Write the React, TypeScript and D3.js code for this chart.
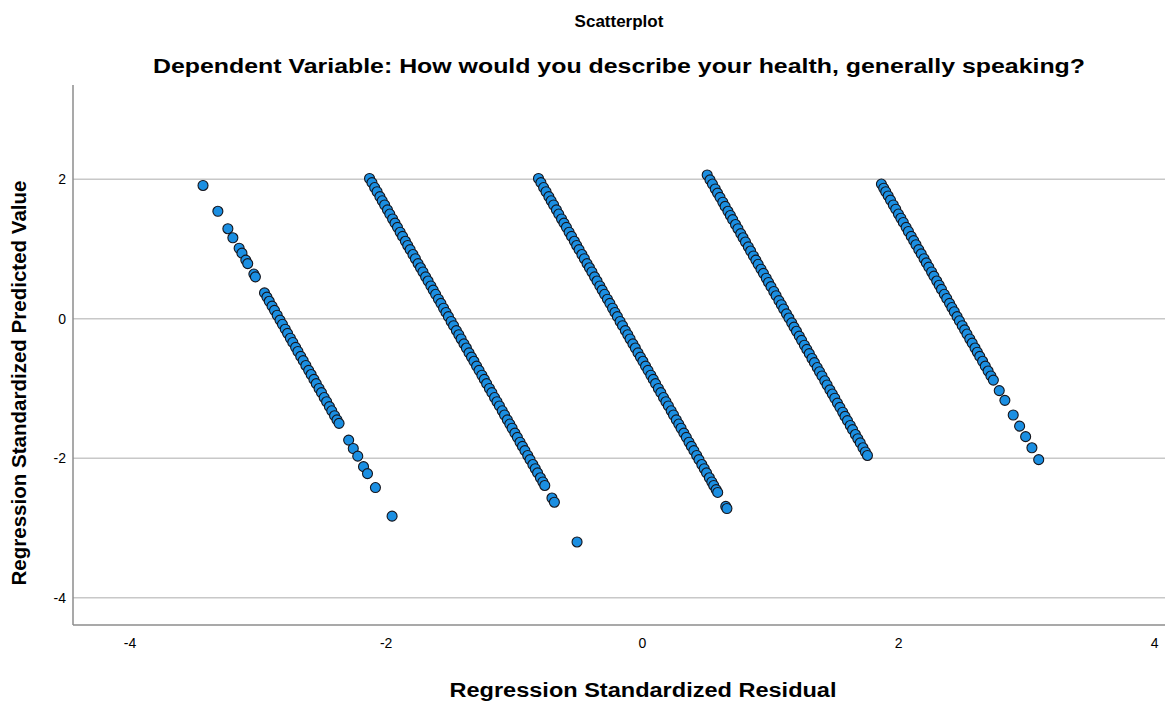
import React, { useRef, useEffect } from "react";
import { select, scaleLinear } from "d3";

const chartTitle = "Scatterplot";
const chartSubtitle =
  "Dependent Variable: How would you describe your health, generally speaking?";
const xAxisTitle = "Regression Standardized Residual";
const yAxisTitle = "Regression Standardized Predicted Value";

const xTicks = [-4, -2, 0, 2, 4];
const yTicks = [-4, -2, 0, 2];
const xDomain = [-4.445, 4.08];
const yDomain = [-4.39, 3.35];

// band 1 (sparse at both ends)
const band1Residual = [
  -3.43, -3.314, -3.236, -3.197, -3.148, -3.126, -3.096, -3.081, -3.033, -3.021,
  -2.95, -2.931, -2.913, -2.891, -2.872, -2.851, -2.829, -2.81, -2.788, -2.77,
  -2.748, -2.729, -2.707, -2.689, -2.667, -2.648, -2.627, -2.605, -2.586, -2.564,
  -2.546, -2.524, -2.505, -2.484, -2.465, -2.443, -2.425, -2.403, -2.384, -2.368,
  -2.293, -2.257, -2.222, -2.177, -2.146, -2.084, -1.954,
];
const band1Predicted = [
  1.91, 1.54, 1.29, 1.16, 1.01, 0.94, 0.84, 0.79, 0.64, 0.6,
  0.37, 0.31, 0.25, 0.18, 0.12, 0.05, -0.02, -0.08, -0.15, -0.21,
  -0.28, -0.34, -0.41, -0.47, -0.54, -0.6, -0.67, -0.74, -0.8, -0.87,
  -0.93, -1.0, -1.06, -1.13, -1.19, -1.26, -1.32, -1.39, -1.45, -1.5,
  -1.74, -1.86, -1.97, -2.12, -2.22, -2.42, -2.83,
];

// band 2
const band2Residual = [
  -2.13, -2.111, -2.09, -2.071, -2.049, -2.031, -2.012, -1.99, -1.972, -1.95,
  -1.931, -1.912, -1.891, -1.872, -1.85, -1.832, -1.813, -1.791, -1.772, -1.751,
  -1.732, -1.713, -1.692, -1.673, -1.651, -1.633, -1.614, -1.592, -1.573, -1.552,
  -1.533, -1.514, -1.493, -1.474, -1.452, -1.433, -1.415, -1.393, -1.374, -1.353,
  -1.334, -1.315, -1.294, -1.275, -1.253, -1.234, -1.216, -1.194, -1.175, -1.154,
  -1.135, -1.116, -1.094, -1.076, -1.054, -1.035, -1.017, -0.995, -0.976, -0.955,
  -0.936, -0.917, -0.895, -0.877, -0.855, -0.836, -0.818, -0.796, -0.777, -0.762,
  -0.706, -0.687, -0.51,
];
const band2Predicted = [
  2.01, 1.95, 1.88, 1.82, 1.75, 1.69, 1.63, 1.56, 1.5, 1.43,
  1.37, 1.31, 1.24, 1.18, 1.11, 1.05, 0.99, 0.92, 0.86, 0.79,
  0.73, 0.67, 0.6, 0.54, 0.47, 0.41, 0.35, 0.28, 0.22, 0.15,
  0.09, 0.03, -0.04, -0.1, -0.17, -0.23, -0.29, -0.36, -0.42, -0.49,
  -0.55, -0.61, -0.68, -0.74, -0.81, -0.87, -0.93, -1.0, -1.06, -1.13,
  -1.19, -1.25, -1.32, -1.38, -1.45, -1.51, -1.57, -1.64, -1.7, -1.77,
  -1.83, -1.89, -1.96, -2.02, -2.09, -2.15, -2.21, -2.28, -2.34, -2.39,
  -2.57, -2.63, -3.2,
];

// band 3
const band3Residual = [
  -0.811, -0.792, -0.771, -0.752, -0.73, -0.712, -0.693, -0.671, -0.653, -0.631,
  -0.612, -0.593, -0.572, -0.553, -0.531, -0.513, -0.494, -0.472, -0.453, -0.432,
  -0.413, -0.394, -0.373, -0.354, -0.332, -0.314, -0.295, -0.273, -0.254, -0.233,
  -0.214, -0.195, -0.174, -0.155, -0.133, -0.114, -0.096, -0.074, -0.055, -0.034,
  -0.015, 0.004, 0.025, 0.044, 0.066, 0.085, 0.103, 0.125, 0.144, 0.165,
  0.184, 0.203, 0.225, 0.243, 0.265, 0.284, 0.302, 0.324, 0.343, 0.364,
  0.383, 0.402, 0.424, 0.442, 0.464, 0.483, 0.501, 0.523, 0.542, 0.557,
  0.576, 0.588, 0.651, 0.66,
];
const band3Predicted = [
  2.01, 1.95, 1.88, 1.82, 1.75, 1.69, 1.63, 1.56, 1.5, 1.43,
  1.37, 1.31, 1.24, 1.18, 1.11, 1.05, 0.99, 0.92, 0.86, 0.79,
  0.73, 0.67, 0.6, 0.54, 0.47, 0.41, 0.35, 0.28, 0.22, 0.15,
  0.09, 0.03, -0.04, -0.1, -0.17, -0.23, -0.29, -0.36, -0.42, -0.49,
  -0.55, -0.61, -0.68, -0.74, -0.81, -0.87, -0.93, -1.0, -1.06, -1.13,
  -1.19, -1.25, -1.32, -1.38, -1.45, -1.51, -1.57, -1.64, -1.7, -1.77,
  -1.83, -1.89, -1.96, -2.02, -2.09, -2.15, -2.21, -2.28, -2.34, -2.39,
  -2.45, -2.49, -2.69, -2.72,
];

// band 4
const band4Residual = [
  0.506, 0.528, 0.547, 0.569, 0.587, 0.606, 0.628, 0.646, 0.668, 0.687,
  0.705, 0.727, 0.746, 0.768, 0.786, 0.805, 0.827, 0.845, 0.867, 0.886,
  0.904, 0.926, 0.945, 0.967, 0.985, 1.004, 1.026, 1.044, 1.066, 1.085,
  1.103, 1.125, 1.144, 1.166, 1.184, 1.203, 1.225, 1.243, 1.265, 1.284,
  1.303, 1.324, 1.343, 1.365, 1.383, 1.402, 1.424, 1.442, 1.464, 1.483,
  1.502, 1.523, 1.542, 1.564, 1.582, 1.601, 1.623, 1.641, 1.663, 1.682,
  1.701, 1.722, 1.741, 1.757,
];
const band4Predicted = [
  2.06, 1.99, 1.93, 1.86, 1.8, 1.74, 1.67, 1.61, 1.54, 1.48,
  1.42, 1.35, 1.29, 1.22, 1.16, 1.1, 1.03, 0.97, 0.9, 0.84,
  0.78, 0.71, 0.65, 0.58, 0.52, 0.46, 0.39, 0.33, 0.26, 0.2,
  0.14, 0.07, 0.01, -0.06, -0.12, -0.18, -0.25, -0.31, -0.38, -0.44,
  -0.5, -0.57, -0.63, -0.7, -0.76, -0.82, -0.89, -0.95, -1.02, -1.08,
  -1.14, -1.21, -1.27, -1.34, -1.4, -1.46, -1.53, -1.59, -1.66, -1.72,
  -1.78, -1.85, -1.91, -1.96,
];

// band 5 (sparser toward the bottom)
const band5Residual = [
  1.866, 1.884, 1.9, 1.919, 1.937, 1.959, 1.978, 1.999, 2.018, 2.037,
  2.059, 2.077, 2.099, 2.118, 2.136, 2.158, 2.177, 2.199, 2.217, 2.236,
  2.258, 2.276, 2.298, 2.317, 2.335, 2.357, 2.376, 2.398, 2.416, 2.435,
  2.457, 2.475, 2.497, 2.516, 2.534, 2.556, 2.575, 2.597, 2.615, 2.634,
  2.656, 2.677, 2.699, 2.721, 2.74, 2.786, 2.83, 2.895, 2.945, 2.992,
  3.041, 3.094,
];
const band5Predicted = [
  1.93, 1.87, 1.82, 1.76, 1.7, 1.63, 1.57, 1.5, 1.44, 1.38,
  1.31, 1.25, 1.18, 1.12, 1.06, 0.99, 0.93, 0.86, 0.8, 0.74,
  0.67, 0.61, 0.54, 0.48, 0.42, 0.35, 0.29, 0.22, 0.16, 0.1,
  0.03, -0.03, -0.1, -0.16, -0.22, -0.29, -0.35, -0.42, -0.48, -0.54,
  -0.61, -0.68, -0.75, -0.82, -0.88, -1.03, -1.17, -1.38, -1.54, -1.69,
  -1.85, -2.02,
];

const bands = [
  { residual: band1Residual, predicted: band1Predicted },
  { residual: band2Residual, predicted: band2Predicted },
  { residual: band3Residual, predicted: band3Predicted },
  { residual: band4Residual, predicted: band4Predicted },
  { residual: band5Residual, predicted: band5Predicted },
];

const width = 1165;
const height = 702;
const plot = { left: 73, right: 1165, top: 85, bottom: 625 };
const font = "'Liberation Sans', Arial, sans-serif";

export default function App() {
  const svgRef = useRef<SVGSVGElement>(null);

  const xScale = scaleLinear().domain(xDomain).range([plot.left, plot.right]);
  const yScale = scaleLinear().domain(yDomain).range([plot.bottom, plot.top]);

  useEffect(() => {
    const svg = select(svgRef.current);

    // horizontal gridlines
    svg
      .select(".grid")
      .selectAll("line")
      .data(yTicks)
      .join("line")
      .attr("x1", plot.left)
      .attr("x2", plot.right)
      .attr("y1", (d) => yScale(d))
      .attr("y2", (d) => yScale(d))
      .attr("stroke", "#c8c8c8")
      .attr("stroke-width", 1.5);

    const points = bands.flatMap((b) =>
      b.residual.map((r, i) => ({ r, p: b.predicted[i] }))
    );

    svg
      .select(".content")
      .selectAll("circle")
      .data(points)
      .join("circle")
      .attr("cx", (d) => xScale(d.r))
      .attr("cy", (d) => yScale(d.p))
      .attr("r", 5)
      .attr("fill", "#1b8fe2")
      .attr("stroke", "#15151c")
      .attr("stroke-width", 1.1);
  }, []);

  return (
    <svg
      ref={svgRef}
      width={width}
      height={height}
      style={{ position: "absolute", left: 0, top: 0, background: "#fff" }}
      fontFamily={font}
    >
      <rect width={width} height={height} fill="#fff" />
      <text x={619} y={27} textAnchor="middle" fontSize={17} fontWeight="bold">
        {chartTitle}
      </text>
      <text
        x={619}
        y={73}
        textAnchor="middle"
        fontSize={20}
        fontWeight="bold"
        textLength={932}
        lengthAdjust="spacingAndGlyphs"
      >
        {chartSubtitle}
      </text>
      <g className="grid" />
      <line
        x1={plot.left}
        x2={plot.left}
        y1={plot.top}
        y2={plot.bottom}
        stroke="#8c8c8c"
        strokeWidth={1.5}
      />
      <line
        x1={plot.left}
        x2={plot.right}
        y1={plot.bottom}
        y2={plot.bottom}
        stroke="#8c8c8c"
        strokeWidth={1.5}
      />
      <g className="content" />
      {xTicks.map((t) => (
        <text key={t} x={xScale(t)} y={648} textAnchor="middle" fontSize={14}>
          {String(t)}
        </text>
      ))}
      {yTicks.map((t) => (
        <text
          key={t}
          x={66}
          y={yScale(t)}
          dy="0.35em"
          textAnchor="end"
          fontSize={14}
        >
          {String(t)}
        </text>
      ))}
      <text
        x={643}
        y={697}
        textAnchor="middle"
        fontSize={20}
        fontWeight="bold"
        textLength={387}
        lengthAdjust="spacingAndGlyphs"
      >
        {xAxisTitle}
      </text>
      <text
        transform={`translate(26, 383) rotate(-90)`}
        textAnchor="middle"
        fontSize={20}
        fontWeight="bold"
        textLength={405}
        lengthAdjust="spacingAndGlyphs"
      >
        {yAxisTitle}
      </text>
    </svg>
  );
}
